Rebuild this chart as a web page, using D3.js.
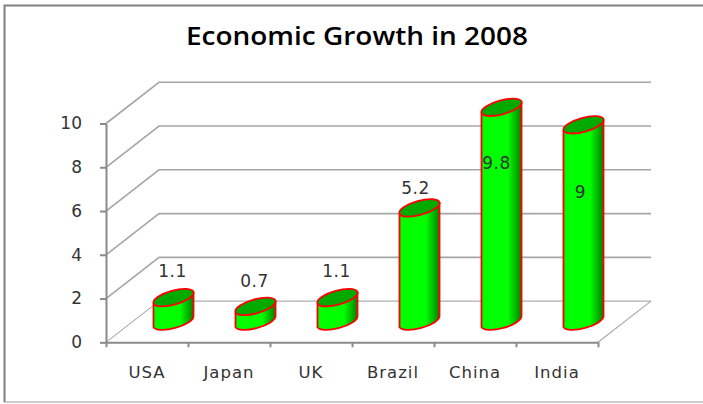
<!DOCTYPE html>
<html>
<head>
<meta charset="utf-8">
<title>Economic Growth in 2008</title>
<style>
  html, body { margin: 0; padding: 0; background: #fff; }
  svg { display: block; }
  text { font-family: "DejaVu Sans", sans-serif; fill: #333; }
  .domain { stroke: #8a8a8a; stroke-width: 2; }
  .tick line { stroke: #8a8a8a; stroke-width: 2; }
</style>
</head>
<body>
<script src="https://cdn.jsdelivr.net/npm/d3@7"></script>
<script>
// data
var categories = ["USA", "Japan", "UK", "Brazil", "China", "India"];
var growth = [1.1, 0.7, 1.1, 5.2, 9.8, 9];
var yTicks = [0, 2, 4, 6, 8, 10];

// where each value label sits relative to the top of its cylinder
var labelDx = [-1, -1, -1, -4, -5, -3];
var labelDy = [-20.5, -19.5, -20.5, -14, 62, 73.5];

var width = 703, height = 404;
var x0 = 106, x1 = 598, y0 = 342.3, y10 = 123.5;
var depthX = 53, depthY = -41.2;   // offset of the back wall

var x = d3.scaleBand().domain(categories).range([x0, x1]);
var y = d3.scaleLinear().domain([0, 10]).range([y0, y10]);

var svg = d3.select("body").append("svg")
  .attr("width", width)
  .attr("height", height);

// gradient on the cylinder sides
var grad = svg.append("defs").append("linearGradient")
  .attr("id", "side");
grad.append("stop").attr("offset", "0%").attr("stop-color", "#00f800");
grad.append("stop").attr("offset", "8%").attr("stop-color", "#00ff00");
grad.append("stop").attr("offset", "66%").attr("stop-color", "#00ff00");
grad.append("stop").attr("offset", "100%").attr("stop-color", "#008000");

// outer frame
svg.append("path")
  .attr("d", "M4.5," + (height - 2) + "V5.5H" + width)
  .attr("fill", "none")
  .attr("stroke", "#808080")
  .attr("stroke-width", 2);
svg.append("line")
  .attr("x1", 4).attr("x2", width)
  .attr("y1", height - 2).attr("y2", height - 2)
  .attr("stroke", "#999")
  .attr("stroke-width", 1);

// title
svg.append("text")
  .attr("x", 357)
  .attr("y", 45)
  .attr("text-anchor", "middle")
  .attr("textLength", 342)
  .attr("lengthAdjust", "spacingAndGlyphs")
  .style("font-family", "'Open Sans', sans-serif")
  .style("font-size", "25px")
  .style("font-weight", 600)
  .style("fill", "#000")
  .text("Economic Growth in 2008");

// gridlines on the back and side walls
var grid = svg.append("g").attr("id", "grid");
grid.selectAll("path")
  .data(yTicks)
  .enter().append("path")
  .attr("d", function(d) {
    return "M" + x0 + "," + y(d) +
      "L" + (x0 + depthX) + "," + (y(d) + depthY) +
      "H" + (x1 + depthX);
  })
  .attr("fill", "none")
  .attr("stroke", function(d) { return d === 0 ? "#999" : "#a6a6a6"; })
  .attr("stroke-width", function(d) { return d === 0 ? 1 : 1.6; });

// floor edge on the right
grid.append("line")
  .attr("x1", x1).attr("y1", y0)
  .attr("x2", x1 + depthX).attr("y2", y0 + depthY)
  .attr("stroke", "#aaa")
  .attr("stroke-width", 1.2);

// Y axis
svg.append("g")
  .attr("id", "y_axis")
  .attr("transform", "translate(" + x0 + ",0)")
  .call(d3.axisLeft(y).tickValues(yTicks).tickSize(6).tickPadding(18).tickSizeOuter(0))
  .selectAll("text")
  .style("font-size", "17px")
  .style("font-family", "'DejaVu Sans', sans-serif");

// X axis: band labels without ticks, then the tick marks between categories
var xLabels = svg.append("g")
  .attr("id", "x_axis")
  .attr("transform", "translate(0," + y0 + ")")
  .call(d3.axisBottom(x).tickSize(0).tickPadding(24));
xLabels.selectAll("text")
  .style("font-size", "16.5px")
  .style("letter-spacing", "1px")
  .style("font-family", "'DejaVu Sans', sans-serif");

var xEdge = d3.scaleLinear().domain([0, categories.length]).range([x0, x1]);
svg.append("g")
  .attr("transform", "translate(0," + y0 + ")")
  .call(d3.axisBottom(xEdge).ticks(categories.length).tickSize(5).tickSizeOuter(0).tickFormat(""))
  .select(".domain").remove();

// cylinders
var halfW = 20, tilt = 5.5, rx = 20.8, ry = 7, rot = -15.4;

function cx(d, i) { return x(categories[i]) + x.bandwidth() / 2 + depthX / 2; }
function cyTop(d) { return y(d) + depthY / 2; }
var cyBase = y(0) + depthY / 2;

function sidePath(d, i) {
  var c = cx(d, i), t = cyTop(d);
  return "M" + (c - halfW) + "," + (t + tilt) +
    "V" + (cyBase + tilt) +
    "A" + rx + "," + ry + " " + rot + " 0 0 " + (c + halfW) + "," + (cyBase - tilt) +
    "V" + (t - tilt) +
    "A" + rx + "," + ry + " " + rot + " 0 1 " + (c - halfW) + "," + (t + tilt) + "Z";
}

var bars = svg.append("g").attr("id", "bars");
bars.selectAll(".side")
  .data(growth)
  .enter().append("path")
  .attr("class", "side")
  .attr("d", sidePath)
  .attr("fill", "url(#side)")
  .attr("stroke", "#ff0000")
  .attr("stroke-width", 1.8);

bars.selectAll(".cap")
  .data(growth)
  .enter().append("ellipse")
  .attr("class", "cap")
  .attr("rx", rx)
  .attr("ry", ry)
  .attr("transform", function(d, i) {
    return "translate(" + cx(d, i) + "," + cyTop(d) + ") rotate(" + rot + ")";
  })
  .attr("fill", "#00aa00")
  .attr("stroke", "#ff0000")
  .attr("stroke-width", 1.8);

// value labels
svg.append("g").selectAll("text")
  .data(growth)
  .enter().append("text")
  .attr("x", function(d, i) { return cx(d, i) + labelDx[i]; })
  .attr("y", function(d, i) { return cyTop(d) + labelDy[i]; })
  .attr("text-anchor", "middle")
  .style("font-size", "17px")
  .style("letter-spacing", "0.5px")
  .text(function(d) { return d; });
</script>
</body>
</html>
